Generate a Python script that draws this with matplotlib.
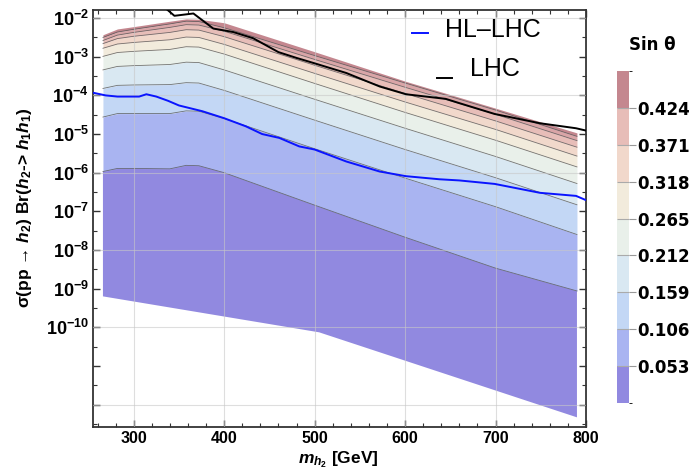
import numpy as np
import matplotlib
matplotlib.use("Agg")
import matplotlib.pyplot as plt
from matplotlib.colors import ListedColormap, BoundaryNorm
from matplotlib.colorbar import ColorbarBase
from matplotlib.ticker import FixedLocator, NullFormatter

plt.rcParams['font.family'] = ['Liberation Sans', 'DejaVu Sans']
plt.rcParams['mathtext.fontset'] = 'custom'
plt.rcParams['mathtext.rm'] = 'Liberation Sans:bold'
plt.rcParams['mathtext.it'] = 'Liberation Sans:italic:bold'
plt.rcParams['mathtext.bf'] = 'Liberation Sans:bold'

# m_h2 nodes [GeV] and log10 of sigma*Br on each sin(theta) contour
m_nodes = [266, 282, 300, 340, 358, 372, 400, 500, 600, 700, 790]
contours_log = [
    [-5.97, -5.89, -5.89, -5.90, -5.81, -5.82, -6.00, -6.84, -7.67, -8.47, -9.06],
    [-4.56, -4.47, -4.47, -4.47, -4.40, -4.41, -4.60, -5.38, -6.14, -6.88, -7.60],
    [-3.82, -3.74, -3.73, -3.72, -3.67, -3.68, -3.87, -4.64, -5.40, -6.13, -6.83],
    [-3.34, -3.25, -3.23, -3.20, -3.14, -3.15, -3.34, -4.10, -4.85, -5.58, -6.28],
    [-2.99, -2.89, -2.86, -2.81, -2.74, -2.75, -2.93, -3.69, -4.44, -5.16, -5.85],
    [-2.78, -2.67, -2.63, -2.56, -2.49, -2.50, -2.68, -3.43, -4.17, -4.88, -5.57],
    [-2.66, -2.53, -2.47, -2.37, -2.30, -2.31, -2.48, -3.22, -3.95, -4.66, -5.34],
    [-2.58, -2.44, -2.37, -2.24, -2.17, -2.18, -2.34, -3.07, -3.79, -4.49, -5.17],
    [-2.50, -2.36, -2.29, -2.15, -2.08, -2.09, -2.25, -2.97, -3.68, -4.38, -5.06],
]
top_log = [-2.43, -2.28, -2.22, -2.08, -2.02, -2.03, -2.12, -2.87, -3.63, -4.33, -4.97]

# lower edge of the scanned region
m_low = [266, 505, 790]
low_log = [-9.20, -10.13, -12.33]

# HL-LHC projection
m_hl = [255, 269, 282, 306, 314, 325, 338, 350, 376, 400, 424, 442, 461, 483,
        500, 535, 572, 601, 638, 660, 699, 749, 789, 800]
hl_log = [-3.93, -4.00, -4.03, -4.03, -3.97, -4.03, -4.14, -4.26, -4.41, -4.59,
          -4.80, -5.00, -5.10, -5.32, -5.40, -5.71, -5.97, -6.09, -6.17, -6.20,
          -6.29, -6.52, -6.60, -6.71]

# LHC limit
m_lhc = [328, 345, 366, 388, 410, 432, 460, 480, 500, 535, 572, 601, 623, 645,
         660, 699, 749, 789, 800]
lhc_log = [-1.60, -1.94, -1.88, -2.27, -2.36, -2.52, -2.88, -3.03, -3.17, -3.42,
           -3.77, -3.97, -4.03, -4.09, -4.20, -4.48, -4.72, -4.85, -4.91]

sin_levels = [0.053, 0.106, 0.159, 0.212, 0.265, 0.318, 0.371, 0.424]
band_colors = ['#9189e0', '#a9b4f1', '#c3d7f5', '#d9e8f2', '#e9f0ea',
               '#f2ebdc', '#f1d8cb', '#e7bdb8', '#d9a5a7', '#c4878f']

fig = plt.figure(figsize=(6.92, 4.73), dpi=100)
ax = fig.add_axes([93 / 692, 1 - 427 / 473, 493 / 692, 417 / 473])

m = np.array(m_nodes, dtype=float)
edges = [None] + [10 ** np.array(c) for c in contours_log] + [10 ** np.array(top_log)]

# bottom band polygon uses the lower edge
ax.fill(np.concatenate([m_low, m[::-1]]),
        np.concatenate([10 ** np.array(low_log), edges[1][::-1]]),
        color=band_colors[0], lw=0, zorder=1)
for i in range(1, len(edges) - 1):
    ax.fill_between(m, edges[i], edges[i + 1], color=band_colors[i], lw=0, zorder=1)
for i in range(1, len(edges) - 1):
    ax.plot(m, edges[i], color='#555555', lw=0.6, alpha=0.8, zorder=2)

ax.plot(m_hl, 10 ** np.array(hl_log), color='#0a14ff', lw=1.4, zorder=4)
ax.plot(m_lhc, 10 ** np.array(lhc_log), color='black', lw=1.4, zorder=4)

ax.set_yscale('log')
ax.set_xlim(255, 800)
ax.set_ylim(10 ** -12.58, 10 ** -1.79)

# grid
for gx in [300, 400, 500, 600, 700, 800]:
    ax.axvline(gx, color='#c8c8c8', lw=0.8, alpha=0.6, zorder=3)
for gy in [-12, -10, -8, -6, -4, -2]:
    ax.axhline(10.0 ** gy, color='#c8c8c8', lw=0.8, alpha=0.6, zorder=3)

ax.set_xticks([300, 400, 500, 600, 700, 800])
ax.set_xticklabels(['300', '400', '500', '600', '700', '800'],
                   fontsize=11.5, fontweight='bold')
ax.xaxis.set_minor_locator(FixedLocator(np.arange(260, 800, 20)))

yt = [10.0 ** k for k in range(-12, -1)]
ax.yaxis.set_major_locator(FixedLocator(yt))
ax.set_yticklabels(['' if k < -10 else r'$10^{%d}$' % k for k in range(-12, -1)],
                   fontsize=13)
ax.yaxis.set_minor_locator(FixedLocator([10.0 ** (k + 0.5) for k in range(-13, -1)]))
ax.yaxis.set_minor_formatter(NullFormatter())

ax.tick_params(which='both', direction='in', top=True, right=True, color='#333333')
ax.tick_params(which='major', length=5, width=1.0, pad=3)
ax.tick_params(which='minor', length=3, width=0.8)
for s in ax.spines.values():
    s.set_color('#333333')
    s.set_linewidth(1.3)

fig.text(25 / 692, 1 - 208 / 473,
         r'σ(pp → $h_2$) Br($h_2$-> $h_1 h_1$)',
         rotation=90, ha='center', va='center', fontsize=12.5, fontweight='bold')
fig.text(338 / 692, 1 - 460 / 473, r'$m_{h_2}$ [GeV]',
         ha='center', va='center', fontsize=12.5, fontweight='bold')

# legend drawn by hand
ax.plot([0.647, 0.679], [0.945, 0.945], transform=ax.transAxes, color='#0a14ff', lw=1.4)
ax.text(0.714, 0.952, 'HL–LHC', transform=ax.transAxes, fontsize=18, va='center')
ax.plot([0.698, 0.728], [0.838, 0.838], transform=ax.transAxes, color='black', lw=1.4)
ax.text(0.765, 0.858, 'LHC', transform=ax.transAxes, fontsize=18, va='center')

# colorbar
cax = fig.add_axes([617 / 692, 1 - 403 / 473, 12 / 692, 332 / 473])
bounds = [0.0] + sin_levels + [0.477]
cmap = ListedColormap(band_colors[:8] + [band_colors[9]])
cb = ColorbarBase(cax, cmap=cmap, norm=BoundaryNorm(bounds, cmap.N),
                  boundaries=bounds, ticks=sin_levels, spacing='uniform',
                  drawedges=True)
cb.outline.set_visible(False)
cb.dividers.set_color('#aaaaaa')
cb.dividers.set_linewidth(0.8)
cb.ax.set_yticklabels(['%.3f' % v for v in sin_levels], fontsize=12,
                      fontweight='bold', family='DejaVu Sans')
cb.ax.tick_params(length=5, width=0.8, color='#999999', pad=1)
fig.text(652 / 692, 1 - 45 / 473, 'Sin θ', ha='center', va='center',
         fontsize=12, fontweight='bold', family='DejaVu Sans')

fig.savefig('out.png', dpi=100)
